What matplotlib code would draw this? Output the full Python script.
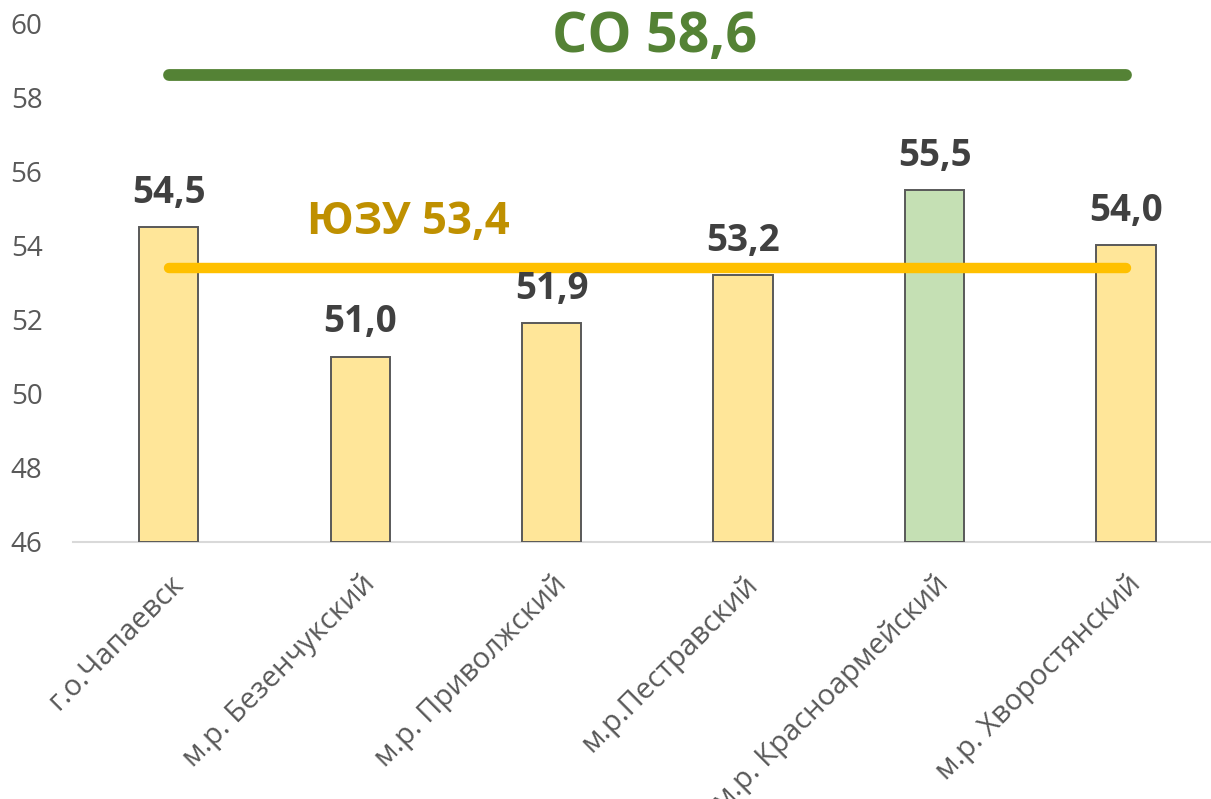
import matplotlib
matplotlib.use("Agg")
import matplotlib.pyplot as plt

categories = ["г.о.Чапаевск", "м.р. Безенчукский", "м.р. Приволжский",
              "м.р.Пестравский", "м.р. Красноармейский", "м.р. Хворостянский"]
values = [54.5, 51.0, 51.9, 53.2, 55.5, 54.0]
bar_colors = ["#FFE699", "#FFE699", "#FFE699", "#FFE699", "#C5E0B4", "#FFE699"]
so_value = 58.6
yuzu_value = 53.4
so_label = "СО 58,6"
yuzu_label = "ЮЗУ 53,4"
yticks = [46, 48, 50, 52, 54, 56, 58, 60]

plt.rcParams['font.family'] = ['Open Sans', 'DejaVu Sans']

fig = plt.figure(figsize=(12.11, 7.99), dpi=100)
ax = fig.add_axes([73/1211, 1-542/799, (1211-73)/1211, (542-23)/799])

x = list(range(len(categories)))
ax.bar(x, [v - 46 for v in values], bottom=46, width=0.31, color=bar_colors,
       edgecolor="#595959", linewidth=1.4, zorder=2)

for xi, v in zip(x, values):
    ax.annotate(f"{v:.1f}".replace(".", ","), (xi, v), xytext=(0, 11),
                textcoords="offset points", ha="center", va="bottom",
                fontsize=26.5, fontweight="bold", color="#404040", zorder=5)

ax.plot([x[0], x[-1]], [so_value, so_value], color="#548235", linewidth=8.5,
        solid_capstyle="round", zorder=3)
ax.plot([x[0], x[-1]], [yuzu_value, yuzu_value], color="#FFC000", linewidth=7.5,
        solid_capstyle="round", zorder=3)

ax.text(2.54, 59.6, so_label, ha="center", va="center", fontsize=40,
        fontweight="bold", color="#548235")
ax.text(1.25, 54.63, yuzu_label, ha="center", va="center", fontsize=31.5,
        fontweight="bold", color="#BF9000")

ax.set_ylim(46, 60)
ax.set_xlim(-0.5, (1211-168)/191.6)
ax.set_yticks(yticks)
ax.set_yticklabels([str(t) for t in yticks], fontsize=20, color="#595959")
ax.set_xticks(x)
ax.set_xticklabels(categories, rotation=45, ha="right", rotation_mode="anchor",
                   fontsize=21, color="#595959")
ax.tick_params(axis="both", length=0)
ax.tick_params(axis="y", pad=22)
ax.tick_params(axis="x", pad=20)
for s in ["top", "right", "left"]:
    ax.spines[s].set_visible(False)
ax.spines["bottom"].set_color("#D9D9D9")
ax.spines["bottom"].set_linewidth(1.5)
ax.spines["bottom"].set_zorder(1)

fig.savefig("out.png", dpi=100)
